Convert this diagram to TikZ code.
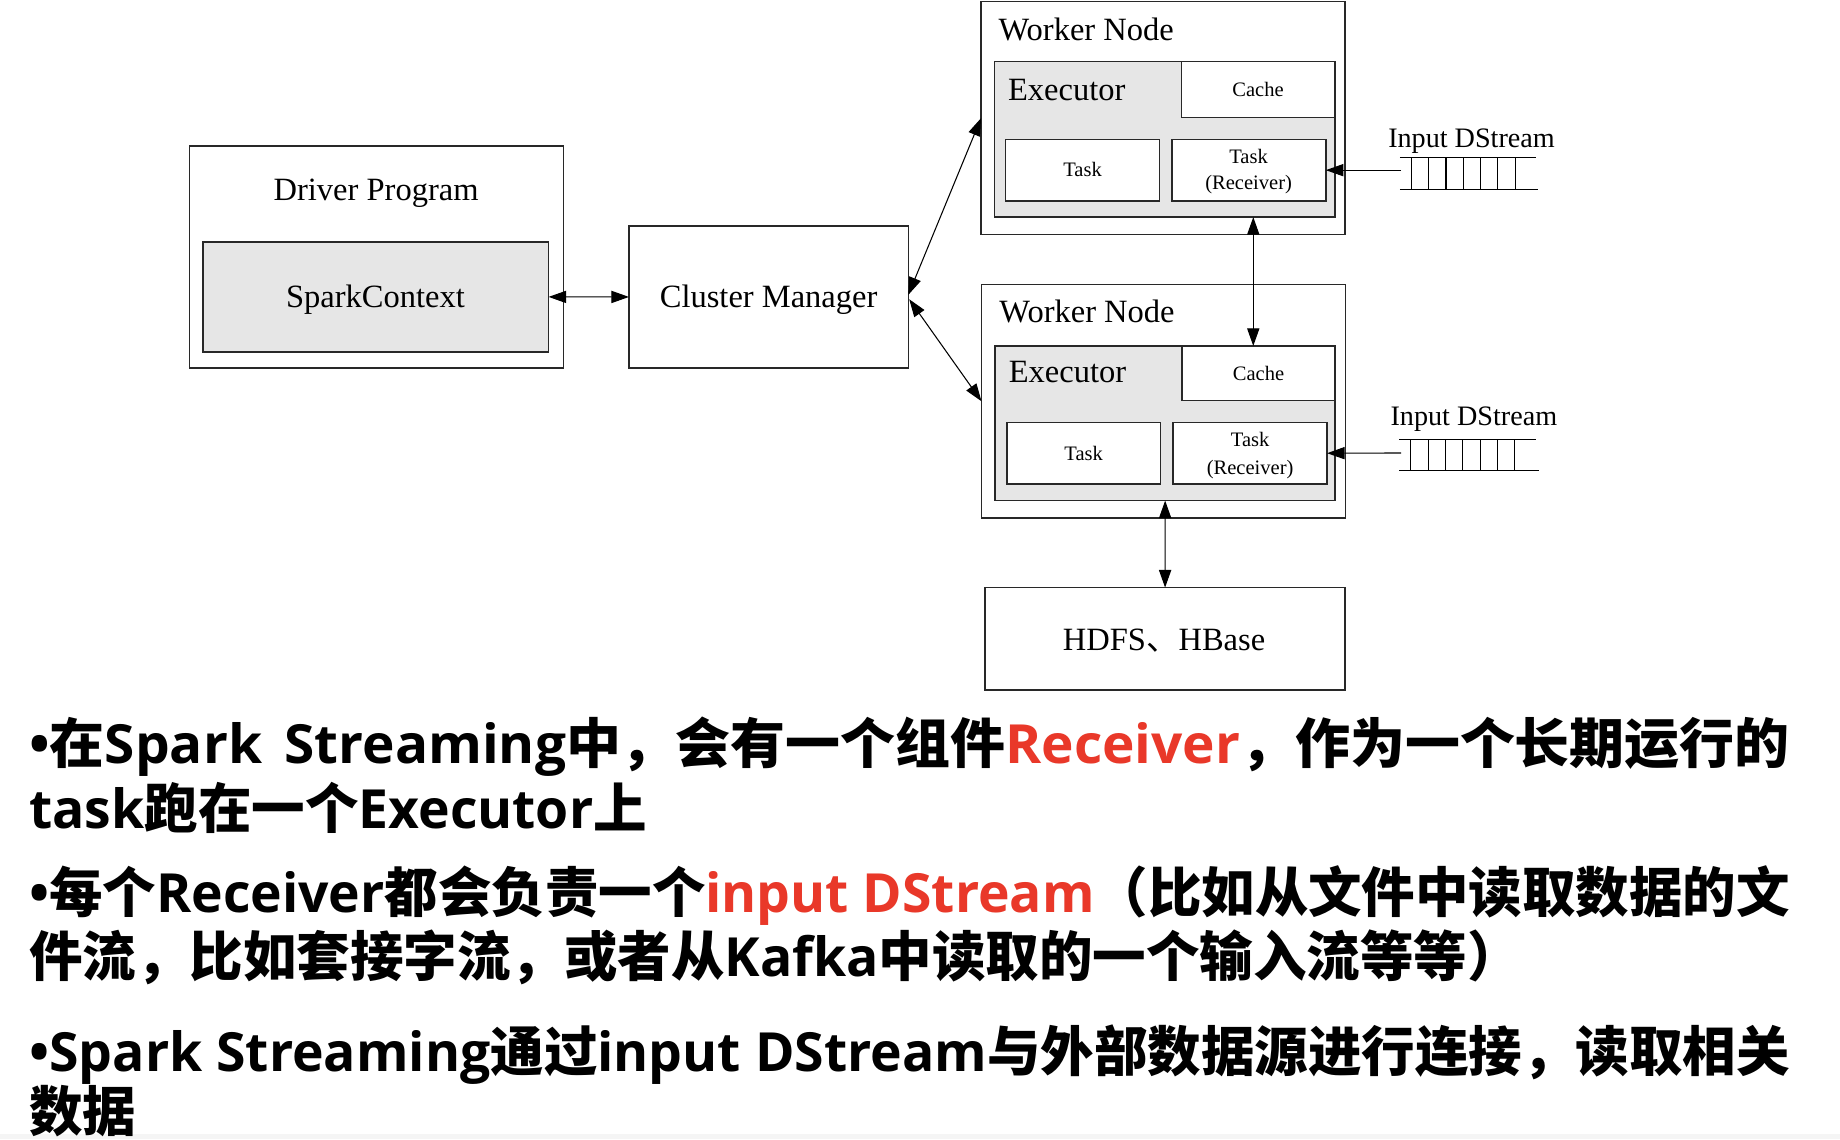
\documentclass[tikz,border=0pt]{standalone}
\usepackage{fontspec}
\usepackage{graphicx}
\setmainfont{Liberation Serif}
\newfontfamily\cjk{Noto Sans CJK SC}
\newfontfamily\ens{Open Sans}
\usetikzlibrary{arrows.meta}
\definecolor{hl}{RGB}{233,56,41}
\definecolor{exgray}{RGB}{230,230,230}
\definecolor{edge}{RGB}{40,40,40}
\newcommand\en[1]{{\ens\bfseries #1}}
\newcommand\bfont{\cjk\bfseries\fontsize{23pt}{23pt}\selectfont}
\newcommand\bigf{\fontsize{13.85pt}{16pt}\selectfont}
\newcommand\smallf{\fontsize{8.75pt}{10pt}\selectfont}
\newcommand\midf{\fontsize{12pt}{14pt}\selectfont}
\newsavebox\tmpbox
\newlength\Lw
\newcommand\lineA{\en{•}在\en{Spark\hspace{0.15em} Streaming}中，会有一个组件\textcolor{hl}{\en{Receiver}}，作为一个长期运行的}
\newcommand\lineB{\en{task}跑在一个\en{Executor}上}
\newcommand\lineC{\en{•}每个\en{Receiver}都会负责一个\textcolor{hl}{\en{input DStream}}（比如从文件中读取数据的文}
\newcommand\lineD{件流，比如套接字流，或者从\en{Kafka}中读取的一个输入流等等）}
\newcommand\lineE{\en{•Spark Streaming}通过\en{input DStream}与外部数据源进行连接，读取相关}
\newcommand\lineF{数据}
\makeatletter
\newcommand\setfx{\sbox\tmpbox{\bfont\lineE}\setlength\Lw{\wd\tmpbox}%
  \ifdim\Lw<1pt \def\fx{1}\setlength\Lw{750pt}\else\pgfmathsetmacro\fx{750/\strip@pt\Lw}\fi}
\makeatother
\newcommand\bx[6][]{\node[box,#1,minimum width={(#5-#3)*0.5pt},minimum height={(#6-#4)*0.5pt}] (#2) at ({(#3+#5)/2},{(#4+#6)/2}) {};}
\tikzset{
  box/.style={draw=edge,line width=0.65pt,fill=white,inner sep=0pt,outer sep=0pt},
  lbl/.style={inner sep=0pt,outer sep=0pt},
  big/.style={lbl,font=\bigf},
  small/.style={lbl,font=\smallf},
  mid/.style={lbl,font=\midf},
  dbl/.style={line width=0.45pt,{Triangle[length=7.5pt,width=5.2pt]}-{Triangle[length=7.5pt,width=5.2pt]}},
  sgl/.style={line width=0.45pt,-{Triangle[length=7.5pt,width=5.2pt]}},
  qline/.style={line width=0.5pt},
  tline/.style={anchor=base west,inner sep=0pt,outer sep=0pt}
}
\begin{document}
\setfx
\begin{tikzpicture}[x=0.5pt,y=-0.5pt]
\useasboundingbox (0,0) rectangle (1568,971);
\fill[white] (0,0) rectangle (1568,971);
\fill[black!4] (0,966) rectangle (1568,971);
% boxes
\bx{driver}{161.4}{124.4}{480}{313.5}
\bx[fill=exgray]{spark}{173}{206}{467.5}{300}
\bx{cm}{536}{192.6}{774}{313.5}
\bx{w1}{836}{1.4}{1146}{200}
\bx[fill=exgray]{ex1}{847.4}{52.5}{1137.5}{185}
\bx{cache1}{1007}{52.5}{1137.5}{100}
\bx{task1}{857}{118.7}{988}{171.3}
\bx{tr1}{998.6}{118.7}{1129.8}{171.3}
\bx{w2}{836.4}{242.3}{1146.5}{441.6}
\bx[fill=exgray]{ex2}{848}{294.8}{1137.8}{426.6}
\bx{cache2}{1007.4}{294.8}{1137.8}{341.4}
\bx{task2}{858}{360}{989}{412.4}
\bx{tr2}{999.8}{360}{1130.9}{412.4}
\bx{hdfs}{839.5}{500.7}{1146.2}{587.9}
% labels
\node[big,anchor=base] (tdp) at (320.5,171.2) {Driver Program};
\node[big,anchor=base] (tsc) at (320,262) {SparkContext};
\node[big,anchor=base] (tcm) at (655,262) {Cluster Manager};
\node[big,anchor=base west] (twn1) at (851,34.8) {Worker Node};
\node[big,anchor=base west] (tex1) at (859,85.9) {Executor};
\node[small,anchor=base] (tca1) at (1072,82.5) {Cache};
\node[small,anchor=base] (tta1) at (922.5,150.6) {Task};
\node[small,anchor=base] (ttr1a) at (1064,139.3) {Task};
\node[small,anchor=base] (ttr1b) at (1064,161.8) {(Receiver)};
\node[mid,anchor=base] (tid1) at (1254,125.7) {Input DStream};
\node[big,anchor=base west] (twn2) at (851.7,274.7) {Worker Node};
\node[big,anchor=base west] (tex2) at (859.7,325.9) {Executor};
\node[small,anchor=base] (tca2) at (1072.5,324.5) {Cache};
\node[small,anchor=base] (tta2) at (923.5,392) {Task};
\node[small,anchor=base] (ttr2a) at (1065.3,380.7) {Task};
\node[small,anchor=base] (ttr2b) at (1065.3,404) {(Receiver)};
\node[mid,anchor=base] (tid2) at (1256,362.9) {Input DStream};
\node[big,anchor=base] (thd) at (992,554.5) {HDFS{\cjk 、}HBase};
% queues
\foreach \i in {0,...,6}{
  \draw[qline] ({1202.8+\i*14.72},134) -- ({1202.8+\i*14.72},161.3);
  \draw[qline] ({1202.3+\i*14.76},374.3) -- ({1202.3+\i*14.76},401);
}
\draw[qline] (1193,134) -- (1309,134);
\draw[qline] (1193,161.3) -- (1311,161.3);
\draw[qline] (1192.5,374.3) -- (1309,374.3);
\draw[qline] (1192.5,401) -- (1311.7,401);
% connectors
\coordinate (cmU) at (774,251.3);
\coordinate (cmL) at (774.8,255);
\coordinate (vx) at (1068,0);
\coordinate (q1) at (1194,145);
\coordinate (q2) at (1194,386);
\draw[dbl] (spark.east) -- (cm.west);
\draw[dbl] (cmU) -- (w1.west);
\draw[dbl] (cmL) -- (w2.west);
\draw[dbl] (ex1.south -| vx) -- (cache2.north -| vx);
\draw[dbl] (ex2.south) -- (hdfs.north);
\draw[sgl] (q1) -- (tr1.east);
\draw[sgl] (q2) -- (tr2.east);
% bottom text
\node[tline] (l1) at (25,651) {\resizebox{750pt}{\height}{\bfont\lineA}};
\node[tline] (l2) at (25,706) {\scalebox{\fx}[1]{\bfont\lineB}};
\node[tline] (l3) at (25,778) {\resizebox{750pt}{\height}{\bfont\lineC}};
\node[tline] (l4) at (25,832) {\scalebox{\fx}[1]{\bfont\lineD}};
\node[tline] (l5) at (25,913) {\scalebox{\fx}[1]{\bfont\lineE}};
\node[tline] (l6) at (25,964) {\scalebox{\fx}[1]{\bfont\lineF}};
\end{tikzpicture}
\end{document}
